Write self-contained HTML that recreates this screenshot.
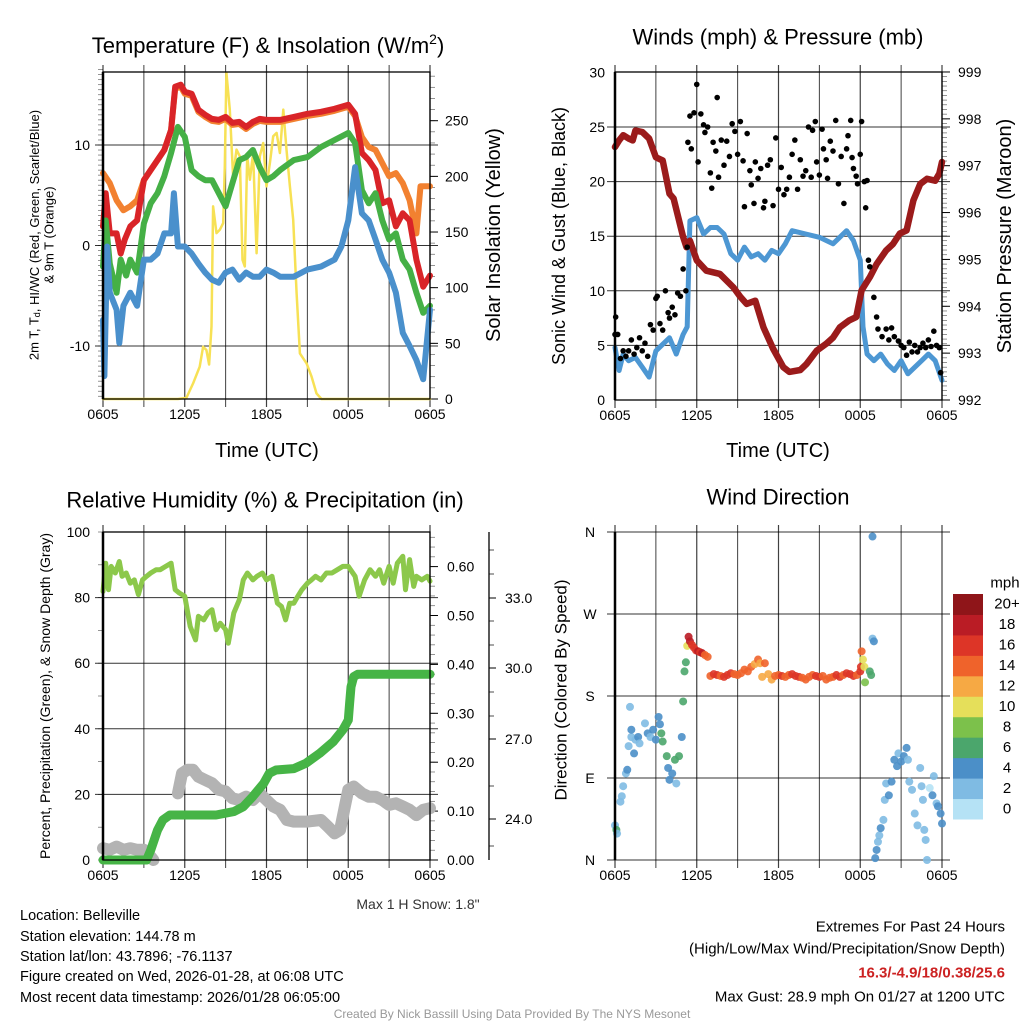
<!DOCTYPE html>
<html><head><meta charset="utf-8"><style>
html,body{margin:0;padding:0;background:#fff;}
svg{display:block;font-family:"Liberation Sans",Arial,sans-serif;}
</style></head><body>
<svg id="s" width="1024" height="1024" viewBox="0 0 1024 1024" xmlns="http://www.w3.org/2000/svg">
<rect width="1024" height="1024" fill="#fff"/>
</svg>
<script>
// ---------- DATA ----------
// Panel 1: temperatures (F) vs hours since 0605
const redH=[0,0.2,0.5,1,1.3,1.6,2,2.5,3,3.5,4,4.5,5,5.3,5.7,6,6.5,7,7.5,8,8.5,9,9.5,10,10.5,11,11.5,12,12.5,13,14,15,16,17,18,18.5,19,19.5,20,20.5,21,21.5,22,22.5,23,23.5,24];
const redV=[1.9,5.2,1.2,1.2,-0.8,0.6,1.9,2.5,6.5,7.5,8.5,9.5,11.5,15.8,16,15.3,15.1,13.5,13,12.6,12.5,12.8,12.2,12.3,11.8,12.3,12.6,12.5,12.5,12.5,12.8,13.1,13.3,13.6,14,13.1,9.2,8.5,7.5,4.2,4.5,1.9,3.2,2.5,-1.4,-4.1,-3];
const orangeH=[0,0.5,1,1.5,2,2.5,3,3.5,4,4.5,5,5.3,5.7,6,6.5,7,7.5,8,8.5,9,9.5,10,10.5,11,11.5,12,12.5,13,14,15,16,17,18,18.5,19,19.5,20,20.5,21,21.5,22,22.5,23,23.3,24];
const orangeV=[7.2,6.2,4.5,3.5,3.9,4.5,6.5,7.5,8.5,9.5,11.5,15.6,15.8,15.1,14.9,13.3,12.8,12.4,12.3,12.6,12,12.1,11.6,12.1,12.4,12.3,12.3,12.3,12.6,12.9,13.1,13.4,13.8,12.9,10.8,9.8,9.5,8.2,6.9,7.2,6.2,4.5,1.2,5.9,5.9];
const greenH=[0,0.2,0.5,1,1.3,1.7,2,2.5,3,3.5,4,4.5,5,5.5,6,6.5,7,7.5,8,8.5,9,9.5,10,10.5,11,11.5,12,12.5,13,14,15,16,17,18,18.5,19,19.5,20,20.5,21,21.5,22,22.5,23,23.5,24];
const greenV=[-2.1,2.5,-1.8,-4.7,-1.4,-3,-1.4,-2.7,2.2,4.2,5.2,6.9,9.2,11.8,10.8,7.5,6.9,6.5,6.5,5.2,3.9,6.2,8.5,8.8,9.5,7.8,6.5,6.9,7.5,8.5,8.8,9.8,10.5,11.2,10.2,5.5,4.2,5.2,2.5,0.6,1.2,-1.4,-2.4,-4.7,-6.7,-6];
const blueH=[0,0.1,0.3,0.5,1,1.2,1.5,2,2.5,3,3.5,4,4.5,5,5.2,5.5,6,6.5,7,7.5,8,8.5,9,9.5,10,10.5,11,11.5,12,12.5,13,14,15,16,17,17.5,18,18.5,19,19.5,20,20.5,21,21.5,22,22.5,23,23.5,24];
const blueV=[-7.4,-13,-0.1,-4.7,-6.4,-9.7,-6,-4.7,-6,-1.4,-1.4,-0.8,1.2,1.2,5.2,-0.1,-0.1,-0.8,-1.8,-2.7,-3.4,-3.7,-2.7,-2.4,-3.4,-2.7,-3.1,-3.1,-2.4,-2.7,-3.1,-3.1,-2.4,-2.1,-1.4,-0.1,2.5,7.8,3.2,2.5,0.6,-1.4,-2.7,-4.7,-8.7,-10,-11.4,-13.3,-6.4];
const solarH=[0,5.5,6.12,6.61,7.1,7.35,7.59,7.79,7.96,8.08,8.33,8.57,8.82,8.94,9.06,9.31,9.55,9.8,10.04,10.24,10.41,10.58,10.78,11.02,11.27,11.51,11.76,12,12.25,12.49,12.74,12.98,13.23,13.47,13.72,13.96,14.21,14.45,14.94,15.31,15.67,16.04,24];
const solarV=[0,0,1,14,29,47,44,31,65,173,149,152,158,209,293,260,200,224,218,125,119,218,197,221,131,218,230,191,212,236,239,221,260,224,191,161,95,41,32,20,5,0,0];
const p1LeftTicks=[-10,0,10];
const p1RightTicks=[0,50,100,150,200,250];
// Panel 2: winds (mph), gusts, pressure (mb)
const presH=[0,0.3,0.6,1,1.3,1.5,2,2.5,3,3.5,4,4.3,5,5.25,5.5,6,6.7,7.7,8.7,9.2,9.66,10.3,10.9,11.6,12.35,12.8,13.6,14.06,14.8,15.5,16,16.5,17.2,17.7,18.1,18.7,19.2,19.9,20.4,20.9,21.4,21.9,22.4,22.9,23.5,23.8,24];
const presV=[997.4,997.54,997.65,997.58,997.54,997.75,997.72,997.58,997.18,997.11,996.4,996.3,995.48,995.26,995.4,994.98,994.76,994.69,994.4,994.2,994.05,994.12,993.55,993.1,992.7,992.6,992.64,992.77,993.05,993.2,993.33,993.55,993.7,993.77,994.34,994.62,994.9,995.19,995.33,995.55,995.62,996.26,996.61,996.72,996.68,996.83,997.08];
const windH=[0,0.3,0.6,1,1.5,2,2.5,3,3.5,4,4.5,5,5.3,5.5,6,6.5,7,7.5,8,8.5,9,9.5,10,10.5,11,11.5,12,12.5,13,14,15,16,17,17.5,18,18.2,18.5,19,19.5,20,20.5,21,21.5,22,22.5,23,23.5,24];
const windV=[4.8,2.7,4.2,3.6,3.9,3,2.1,4.5,5.1,5.7,4.2,6,6.7,16.4,16.7,15.2,15.8,15.8,15.2,13.4,12.8,14,13.1,13.4,12.8,13.7,13.4,14.3,15.5,15.2,14.9,14.3,15.5,14.6,12.8,6.7,4.2,3.6,4.2,3.3,2.7,3.6,2.4,3,3.6,4.2,3.6,1.8];
const gustH=[0,0.05,0.2,0.4,0.6,0.8,1,1.2,1.4,1.6,1.8,2,2.2,2.4,2.6,2.8,3,3.1,3.3,3.5,3.7,3.9,4,4.2,4.4,4.6,4.8,5,5.2,5.3,5.35,5.5,5.6,5.8,6,6.1,6.3,6.5,6.6,6.8,7,7.1,7.2,7.4,7.5,7.6,7.8,8,8.2,8.4,8.6,8.8,9,9.2,9.4,9.5,9.7,9.9,10,10.2,10.3,10.5,10.7,10.9,11,11.2,11.4,11.6,11.8,12,12.2,12.4,12.6,12.8,13,13.2,13.4,13.6,13.8,14,14.2,14.4,14.5,14.7,14.8,15,15.2,15.3,15.5,15.6,15.8,16,16.2,16.4,16.6,16.8,17,17.1,17.3,17.4,17.5,17.7,17.8,18,18.1,18.3,18.4,18.5,18.6,18.7,19,19.2,19.3,19.6,19.9,20.1,20.3,20.5,20.8,21,21.2,21.4,21.6,21.8,22,22.2,22.4,22.6,22.8,23,23.2,23.4,23.6,23.8,23.9];
const gustV=[6,7.6,6,3.8,4.5,4,4.5,5.5,4.2,4.8,5.7,4.5,5.2,4,6.9,6.4,9.3,9.5,7,6.4,10,8,7.5,8.5,7.8,9.8,9.5,12,10,14,23.6,26,23,26.3,28.9,21.8,26.2,25.2,24.5,25,20.8,19.4,23.6,22.8,27.7,20.4,23.8,21.5,23.7,22.3,25.3,24.6,22.5,25.5,21.9,17.7,24.4,21,19.7,18,21.8,20.3,21.2,17.6,18.2,21.5,22,17.8,24,19.3,21.3,18.8,19.3,20.4,22.5,23.8,19.3,22,20.5,21,25,20.4,24.7,25.5,21.8,20.6,24.8,23,22,20.3,23.7,22.8,25.6,19.8,22.3,18,23,24.2,25.6,22.2,21.2,20.5,19.8,22.5,25.5,20,17.6,20.1,12.8,12.2,9.4,7.6,6.5,5.8,6.5,5.5,6.6,5.8,5.4,5,4.8,4.1,5.3,4.4,5,4.4,4.8,5.2,4.8,5.5,4.9,6.3,5,4.8,2.5];
const p2LeftTicks=[0,5,10,15,20,25,30];
const p2RightTicks=[992,993,994,995,996,997,998,999];
// Panel 3: RH (%), precipitation (in), snow depth (plotted on left scale)
const rhH=[0,0.2,0.4,0.6,0.9,1.2,1.4,1.7,2,2.3,2.6,2.9,3.2,3.5,3.9,4.2,4.6,5,5.3,5.6,6,6.4,6.8,7,7.4,7.7,8,8.3,8.6,9,9.2,9.6,10,10.3,10.6,11,11.3,11.7,12,12.4,12.8,13.1,13.4,13.7,14,14.3,14.6,15,15.3,15.6,16,16.4,16.8,17.2,17.6,18,18.5,18.8,19.2,19.6,20,20.3,20.6,21,21.3,21.6,22,22.2,22.5,22.8,23,23.4,23.8,24];
const rhV=[81.9,90.5,82.4,89.5,87.5,91,86.5,87.5,84.4,85.4,80.9,85.4,86.5,87.5,88.5,88.5,89.5,90.5,82.4,81.4,80.4,71.2,67.1,74.3,73.2,75.3,76.3,70.2,72.2,70.2,66.1,75.3,79.3,85.4,87.5,85.4,86.5,87.5,85.4,86.5,78.3,77.3,73.2,78.3,78.3,80.4,82.4,84.4,85.4,86.5,85.4,87.5,87.5,88.5,89.5,89.5,86.5,80.4,85.4,88.5,86.5,88.5,84.4,89.5,84.4,90.5,92.6,82.4,91.6,83.4,86.5,85.4,86.5,85];
const precipH=[0,3.2,3.5,4,4.4,4.9,6.1,8.3,9.6,10.3,11,11.8,12.2,12.7,14,14.9,15.9,16.9,17.6,18,18.1,18.2,18.4,18.7,24];
const precipV=[0,0,0.02,0.061,0.082,0.092,0.092,0.092,0.099,0.109,0.13,0.157,0.177,0.184,0.187,0.198,0.218,0.242,0.266,0.286,0.32,0.354,0.375,0.38,0.38];
const snowH=[0,0.5,1,1.5,2,2.5,3,3.5,3.7,5.5,5.8,6.2,6.6,7,7.5,8,8.5,9,9.5,10,10.5,11,11.5,12,12.5,13,13.5,14,15,16,16.5,17,17.4,17.8,18,18.4,19,19.5,20,20.5,21,21.5,22,22.5,23,23.5,24];
const snowV=[3.6,3.1,4.1,3.1,3.6,3.1,3.1,1,0,20.3,26.4,27.5,27.5,25.4,24.4,23.4,21.4,20.9,18.8,18.3,19.3,18.3,20.3,18.3,16.3,15.3,12.2,11.7,11.7,12.2,10.2,8.1,9.2,17.3,21.4,22.4,20.3,19.3,19.3,18.3,16.8,17.3,16.3,15.3,13.7,15.3,15.8];
const p3LeftTicks=[0,20,40,60,80,100];
const p3RightTicks=[0,0.1,0.2,0.3,0.4,0.5,0.6];
const snowTickLabels=["24.0","27.0","30.0","33.0"];
// Panel 4: wind direction (deg) and speed (mph)
const dirH=[0,0.1,0.15,0.4,0.5,0.6,0.8,0.9,1.0,1.1,1.2,1.2,1.4,1.5,1.7,1.8,2.2,2.4,2.6,2.8,3,3.2,3.3,3.4,3.5,3.8,3.9,4.0,4.2,4.4,4.5,4.7,4.9,5.0,5.1,5.2,5.3,5.4,5.5,5.65,5.8,5.95,6.1,6.25,6.4,6.6,6.8,7.0,7.25,7.5,7.75,8,8.25,8.5,8.75,9,9.25,9.5,9.75,10,10.25,10.5,10.65,10.8,11,11.25,11.5,11.75,12,12.25,12.5,12.75,13,13.25,13.5,13.75,14,14.25,14.5,14.75,15,15.25,15.5,15.75,16,16.25,16.5,16.75,17,17.25,17.5,17.75,18,18.05,18.1,18.2,18.3,18.35,18.7,18.8,18.9,18.9,19.0,19.1,19.2,19.3,19.4,19.5,19.7,19.8,19.9,20.1,20.3,20.5,20.7,20.8,21.0,21.2,21.4,21.5,21.6,21.8,22.0,22.2,22.4,22.5,22.6,22.7,22.8,22.9,23.1,23.3,23.4,23.6,23.7,23.9,24];
const dirV=[38,33,29,64,70,81,95,99,125,168,135,143,117,132,135,128,150,139,135,143,132,157,149,139,130,114,101,88,95,110,84,114,135,174,207,217,235,245,240,236,233,230,229,228,227,225,223,202,204,203,202,201,203,205,204,203,205,209,207,212,215,220,216,201,216,204,198,202,203,202,201,203,204,202,201,200,198,201,203,202,201,202,198,200,201,203,201,203,205,204,202,203,207,212,229,220,212,195,207,203,355,243,240,2,11,20,27,35,44,66,84,71,86,110,103,117,108,114,123,110,86,77,51,38,101,81,66,33,22,0,79,71,92,62,59,51,40,70,60];
const dirS=[3,6,3,2,2,2,2,4,2,2,2,4,4,2,4,2,2,4,2,4,4,4,4,6,6,6,4,4,4,6,2,6,4,6,6,6,10,18,18,17,16,17,18,17,18,15,14,14,16,16,15,16,17,16,15,14,15,14,15,14,13,14,12,12,14,13,12,15,14,16,14,15,16,17,16,15,14,15,14,16,16,15,14,15,14,16,16,15,16,17,16,15,16,16,14,10,10,8,6,7,4,2,4,4,4,2,2,4,2,2,2,4,4,4,4,2,4,4,4,2,2,2,2,2,2,2,2,2,2,2,0,4,2,2,4,4,4,4,2];
const dirTickLabels=["N","E","S","W","N"];
const speedBinLabels=["0","2","4","6","8","10","12","14","16","18","20+"];
const speedColors=["#b5e2f5","#7fbbe3","#4b8fc8","#4ba66c","#7cc14b","#e5df5a","#f6a944","#ef632b","#dd3527","#ba1c25","#8f1519"];
const timeTickLabels=["0605","1205","1805","0005","0605"];

// ---------- HELPERS ----------
const NS="http://www.w3.org/2000/svg";
const svg=document.getElementById('s');
function mk(tag,attrs,parent){const e=document.createElementNS(NS,tag);for(const k in attrs)e.setAttribute(k,attrs[k]);(parent||svg).appendChild(e);return e;}
function txt(s,x,y,size,anchor,parent,extra){const t=mk('text',Object.assign({x:x,y:y,'font-size':size,'text-anchor':anchor||'middle','dominant-baseline':'central',fill:'#000'},extra||{}),parent);t.textContent=s;return t;}
function panel(x0,x1,y0,y1){return {x0,x1,y0,y1,X:h=>x0+h/24*(x1-x0)};}
function poly(p,H,V,Y,stroke,w,name,g){let d='';for(let i=0;i<H.length;i++){d+=(i?'L':'M')+p.X(H[i]).toFixed(1)+','+Y(V[i]).toFixed(1);}const e=mk('path',{d:d,fill:'none',stroke:stroke,'stroke-width':w,'stroke-linejoin':'round','stroke-linecap':'round'},g);


return e;}
function frame(p,name){
  const g=mk('g',{});
  
  
  for(let i=0;i<=8;i++){const x=p.x0+i*(p.x1-p.x0)/8;
    const l=mk('line',{x1:x,x2:x,y1:p.y0-7,y2:p.y1+8,stroke:'#000','stroke-width':i%2?1:1.2,'stroke-opacity':0.75},g);
    
    }
  for(let i=0;i<5;i++){const t=txt(timeTickLabels[i],p.x0+i*(p.x1-p.x0)/4,p.y1+15,14,'middle',g);
    
    }
  return g;}
function border(p,g){mk('rect',{x:p.x0,y:p.y0,width:p.x1-p.x0,height:p.y1-p.y0,fill:'none',stroke:'#000','stroke-width':1.3},g);
  mk('line',{x1:p.x0,x2:p.x0,y1:p.y0,y2:p.y1,stroke:'#000','stroke-width':2.5},g);}
function hgrid(p,y,g){mk('line',{x1:p.x0-8,x2:p.x1+8,y1:y,y2:y,stroke:'#000','stroke-width':1,'stroke-opacity':0.8},g);}
function ticksY(p,side,ymin,ymax,step,len,g){for(let y=ymin;y<=ymax+0.01;y+=step){const x=side<0?p.x0:p.x1;mk('line',{x1:x,x2:x+side*len,y1:y,y2:y,stroke:'#000','stroke-width':0.7,'stroke-opacity':0.6},g);}}

// ---------- PANEL 1 ----------
const p1=panel(103,430,72,399);
const t1=v=>245.5-v*10.05, s1=v=>399-v*278.3/250;
const g1=frame(p1,'temperature-panel');
p1LeftTicks.forEach(v=>{hgrid(p1,t1(v),g1);const t=txt(String(v),90,t1(v),14,'end',g1);
  
  });
ticksY(p1,-1,t1(17.5),t1(-15.3),5.025,5,g1);
ticksY(p1,1,s1(290),399,11.13,5,g1);
p1RightTicks.forEach(v=>{mk('line',{x1:430,x2:438,y1:s1(v),y2:s1(v),stroke:'#000'},g1);const t=txt(String(v),445,s1(v),14,'start',g1);
  
  });
poly(p1,solarH,solarV,s1,'#f7e155',2.5,'solar-insolation-line',g1);
poly(p1,orangeH,orangeV,t1,'#f28130',6,'9m-temp-line',g1);
poly(p1,redH,redV,t1,'#d92428',6,'2m-temp-line',g1);
poly(p1,greenH,greenV,t1,'#45b046',6,'dewpoint-line',g1);
poly(p1,blueH,blueV,t1,'#4a90cc',6,'wind-chill-line',g1);
border(p1,g1);
{const t=mk('text',{x:268,y:53,'font-size':22,'text-anchor':'middle'});t.innerHTML='Temperature (F) &amp; Insolation (W/m<tspan font-size="14" dy="-9">2</tspan><tspan dy="9">)</tspan>';

}
{const t=txt('Time (UTC)',267,451,20,'middle');

}
{const t=mk('text',{x:0,y:0,'font-size':13,'text-anchor':'middle','dominant-baseline':'central',transform:'translate(34,235) rotate(-90)'});t.innerHTML='2m T, T<tspan font-size="9" dy="3">d</tspan><tspan dy="-3">, HI/WC (Red, Green, Scarlet/Blue)</tspan>';

}
{const t=txt('& 9m T (Orange)',0,0,13,'middle',null,{transform:'translate(49,235) rotate(-90)'});

}
{const t=txt('Solar Insolation (Yellow)',0,0,20,'middle',null,{transform:'translate(494,235) rotate(-90)'});

}

// ---------- PANEL 2 ----------
const p2=panel(615,942,72,400);
const w2=v=>400-v*10.92, pr2=v=>400-(v-992)*46.86;
const g2=frame(p2,'winds-panel');
p2LeftTicks.forEach(v=>{if(v>0&&v<30)hgrid(p2,w2(v),g2);const t=txt(String(v),605,w2(v),14,'end',g2);
  
  });
ticksY(p2,-1,w2(0),w2(30),2.73,5,g2);
ticksY(p2,1,pr2(999),pr2(992),4.686,5,g2);
p2RightTicks.forEach(v=>{mk('line',{x1:942,x2:950,y1:pr2(v),y2:pr2(v),stroke:'#000'},g2);const t=txt(String(v),958,pr2(v),14,'start',g2);
  
  });
poly(p2,windH,windV,w2,'#4d97d3',5,'sonic-wind-line',g2);
poly(p2,presH,presV,pr2,'#9b1b1b',6.5,'station-pressure-line',g2);
gustH.forEach((h,i)=>{const c=mk('circle',{cx:p2.X(h),cy:w2(gustV[i]),r:2.8,fill:'#000'},g2);
  
  });
border(p2,g2);
{const t=txt('Winds (mph) & Pressure (mb)',778,37,22,'middle');

}
{const t=txt('Time (UTC)',778,451,20,'middle');

}
{const t=txt('Sonic Wind & Gust (Blue, Black)',0,0,18,'middle',null,{transform:'translate(559,236) rotate(-90)'});

}
{const t=txt('Station Pressure (Maroon)',0,0,20,'middle',null,{transform:'translate(1005,236) rotate(-90)'});

}

// ---------- PANEL 3 ----------
const p3=panel(103,430,532,860);
const r3=v=>860-v*3.28, pc3=v=>860-v*489;
const g3=frame(p3,'humidity-panel');
p3LeftTicks.forEach(v=>{if(v>0&&v<100)hgrid(p3,r3(v),g3);const t=txt(String(v),90,r3(v),14,'end',g3);
  
  });
ticksY(p3,-1,r3(100),r3(0),32.8,5,g3);
ticksY(p3,1,pc3(0.66),860,9.78,5,g3);
p3RightTicks.forEach(v=>{mk('line',{x1:430,x2:438,y1:pc3(v),y2:pc3(v),stroke:'#000'},g3);const t=txt(v.toFixed(2),447,pc3(v),14,'start',g3);
  
  });
// snow depth axis
mk('line',{x1:489,x2:489,y1:532,y2:860,stroke:'#000','stroke-width':1.3},g3);
[819,739,668,598].forEach((y,i)=>{mk('line',{x1:489,x2:496,y1:y,y2:y,stroke:'#000'},g3);const t=txt(snowTickLabels[i],505,y,14,'start',g3);
  
  });
[550,574,621,645,692,716,786,846].forEach(y=>mk('line',{x1:489,x2:494,y1:y,y2:y,stroke:'#000','stroke-width':0.7},g3));
poly(p3,snowH.slice(0,9),snowV.slice(0,9),r3,'#b3b3b3',12,'snow-depth-line-early',g3);
poly(p3,snowH.slice(9),snowV.slice(9),r3,'#b3b3b3',12,'snow-depth-line',g3);
poly(p3,rhH,rhV,r3,'#8cc84b',5,'relative-humidity-line',g3);
poly(p3,precipH,precipV,pc3,'#46b446',9,'precipitation-line',g3);
border(p3,g3);
{const t=txt('Relative Humidity (%) & Precipitation (in)',265,500,22,'middle');

}
{const t=txt('Percent, Precipitation (Green), & Snow Depth (Gray)',0,0,14,'middle',null,{transform:'translate(45,696) rotate(-90)'});

}
{const t=txt('Max 1 H Snow: 1.8"',418,904,14,'middle',null,{fill:'#333'});

}

// ---------- PANEL 4 ----------
const p4=panel(615,942,532,860);
const d4=v=>860-v*328/360;
const g4=frame(p4,'wind-direction-panel');
dirTickLabels.forEach((l,i)=>{const y=d4(i*90);hgrid(p4,y,g4);const t=txt(l,590,y,14,'middle',g4);
  
  });
dirH.forEach((h,i)=>{const b=Math.max(0,Math.min(10,Math.floor(dirS[i]/2)));const c=mk('circle',{cx:p4.X(h),cy:d4(dirV[i]),r:4,fill:speedColors[b],'fill-opacity':0.9},g4);
  
  });
mk('line',{x1:615,x2:615,y1:532,y2:860,stroke:'#000','stroke-width':2.5},g4);
{const t=txt('Wind Direction',778,497,22,'middle');

}
{const t=txt('Direction (Colored By Speed)',0,0,17,'middle',null,{transform:'translate(561,690) rotate(-90)'});

}
// colorbar
const cb=mk('g',{});


const bh=(819-594)/11;
speedBinLabels.forEach((l,i)=>{const y=819-(i+1)*bh;mk('rect',{x:953,y:y,width:30,height:bh+0.5,fill:speedColors[i]},cb);const t=txt(l,1007,y+bh/2,15,'middle',cb);
  
  });
{const t=txt('mph',1005,583,15,'middle',cb);

}

// ---------- FOOTER ----------
const info=["Location: Belleville","Station elevation: 144.78 m","Station lat/lon: 43.7896; -76.1137","Figure created on Wed, 2026-01-28, at 06:08 UTC","Most recent data timestamp: 2026/01/28 06:05:00"];
const infoY=[916,937,957,977,998];
info.forEach((s,i)=>{const t=txt(s,20,infoY[i],14.5,'start');
  
  });
const ext=[["Extremes For Past 24 Hours",927,'#000','normal'],["(High/Low/Max Wind/Precipitation/Snow Depth)",949,'#000','normal'],["16.3/-4.9/18/0.38/25.6",973,'#cc2222','bold'],["Max Gust: 28.9 mph On 01/27 at 1200 UTC",997,'#000','normal']];
ext.forEach(e=>{const t=txt(e[0],1005,e[1],15,'end',null,{fill:e[2],'font-weight':e[3]});
  
  });
{const t=txt('Created By Nick Bassill Using Data Provided By The NYS Mesonet',512,1014,12,'middle',null,{fill:'#999'});

}
</script>
</body></html>
